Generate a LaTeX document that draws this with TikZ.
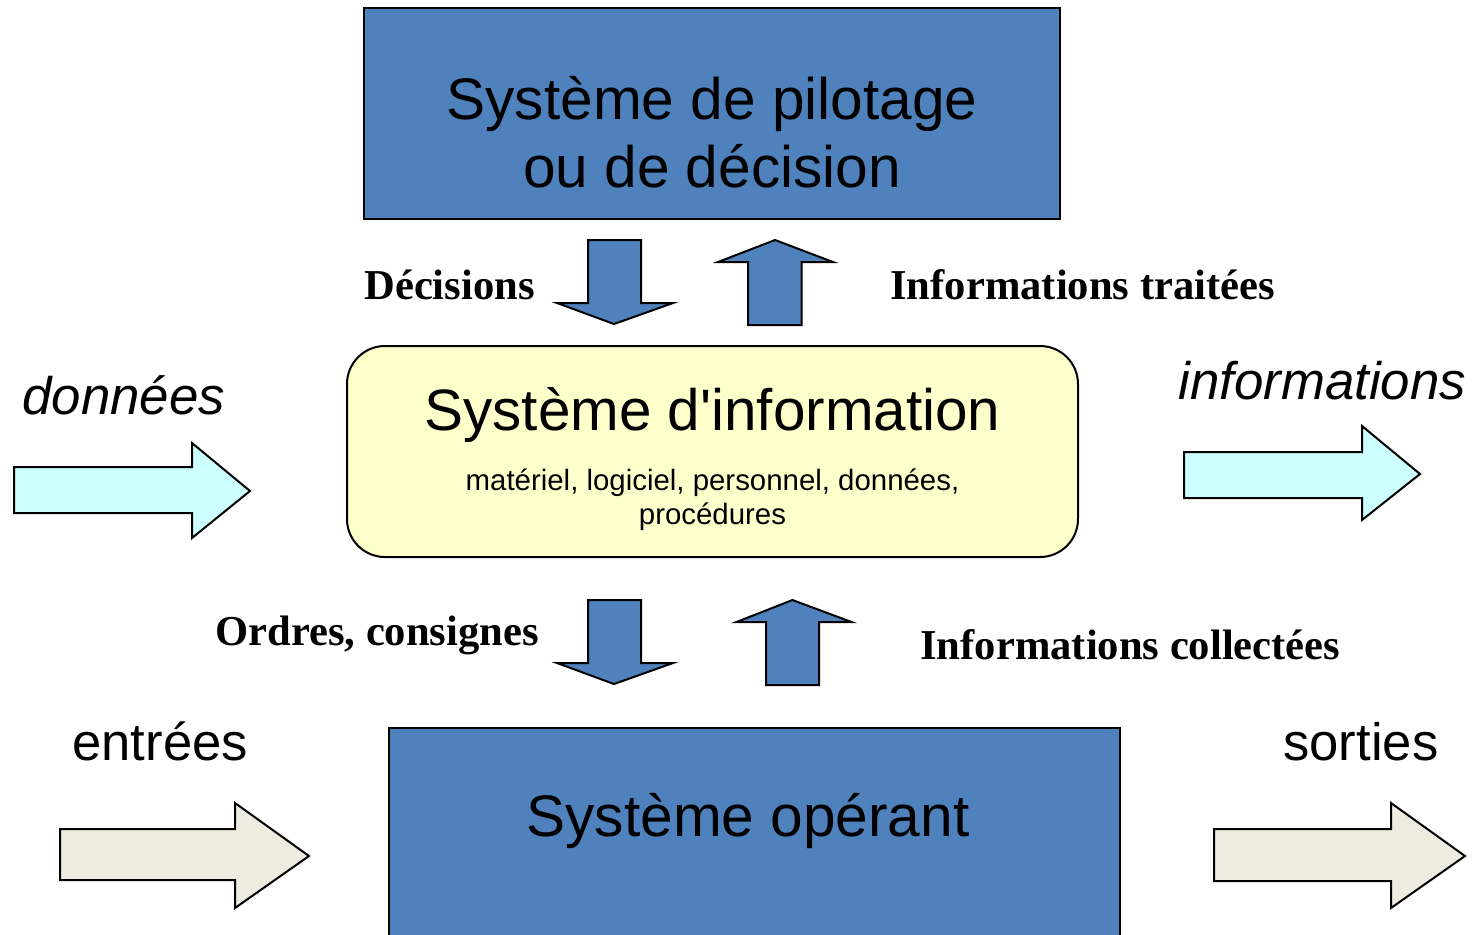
\documentclass[tikz,border=0pt]{standalone}
\usepackage{fontspec}
\setmainfont{Liberation Serif}
\setsansfont{Liberation Sans}
% plain family without TeX quote ligatures, so the apostrophe stays straight
\newfontfamily\plainsans{Liberation Sans}

\definecolor{boxblue}{RGB}{79,129,189}
\definecolor{siyellow}{RGB}{255,255,204}
\definecolor{flowcyan}{RGB}{204,255,255}
\definecolor{flowbeige}{RGB}{238,236,225}

\begin{document}
\begin{tikzpicture}[x=0.5pt,y=-0.5pt,
  sysbox/.style={draw=black,line width=1.25pt,fill=boxblue},
  blockarrow/.style={draw=black,line width=1pt,line join=miter,fill=boxblue},
  cyanarrow/.style={draw=black,line width=1pt,line join=miter,fill=flowcyan},
  beigearrow/.style={draw=black,line width=1pt,line join=miter,fill=flowbeige},
  bigtext/.style={inner sep=0pt,align=center,font=\sffamily\fontsize{29.3pt}{34pt}\selectfont},
  sitext/.style={inner sep=0pt,align=center,font=\plainsans\fontsize{29.2pt}{34pt}\selectfont},
  smalltext/.style={inner sep=0pt,align=center,font=\sffamily\fontsize{14.7pt}{17pt}\selectfont},
  flowlabel/.style={inner sep=0pt,anchor=base west,font=\sffamily\fontsize{26.3pt}{30pt}\selectfont},
  flowitalic/.style={inner sep=0pt,anchor=base west,font=\sffamily\itshape\fontsize{26.4pt}{30pt}\selectfont},
  arrowlabel/.style={inner sep=0pt,anchor=base west,font=\bfseries\fontsize{21.3pt}{25pt}\selectfont}]
\useasboundingbox (0,0) rectangle (1474,934);
\clip (0,0) rectangle (1474,934);

% Steering system (base anchor = baseline of the last line)
\draw[sysbox] (364,8) rectangle (1060,219);
\node[bigtext,anchor=base] (pilot) at (712,187) {Système de pilotage\\ou de décision};

% Information system
\draw[line width=1pt,fill=siyellow,rounded corners=19pt] (347,346) rectangle (1078,557);
\node[sitext,anchor=base] (si) at (712.5,430) {Système d'information};
\node[smalltext,anchor=base] (sicontent) at (712.5,524) {matériel, logiciel, personnel, données,\\procédures};

% Operating system (runs off the bottom edge)
\fill[boxblue] (389,728) rectangle (1120,950);
\draw[line width=1.25pt] (389,950) -- (389,728) -- (1120,728) -- (1120,950);
\node[bigtext,anchor=base] (operant) at (748,836) {Système opérant};

% Vertical block arrows between the systems
\draw[blockarrow] (588,240) -- (641,240) -- (641,303) -- (673,303) -- (614,324) -- (557,303) -- (588,303) -- cycle;
\draw[blockarrow] (748,325) -- (801.5,325) -- (801.5,262) -- (833,262) -- (775,240) -- (718,262) -- (748,262) -- cycle;
\draw[blockarrow] (588,600) -- (641,600) -- (641,663) -- (673,663) -- (614,684) -- (557,663) -- (588,663) -- cycle;
\draw[blockarrow] (766,685) -- (819,685) -- (819,622) -- (851.5,622) -- (792.5,600) -- (736.5,622) -- (766,622) -- cycle;

% Horizontal flows
\draw[cyanarrow] (14,467) -- (192,467) -- (192,443) -- (250,491) -- (192,538) -- (192,513) -- (14,513) -- cycle;
\draw[cyanarrow] (1184,452) -- (1362,452) -- (1362,426) -- (1420,474) -- (1362,520) -- (1362,498) -- (1184,498) -- cycle;
\draw[beigearrow] (60,829) -- (235,829) -- (235,803) -- (309,856) -- (235,908) -- (235,880) -- (60,880) -- cycle;
\draw[beigearrow] (1214,829) -- (1391,829) -- (1391,803) -- (1465,856) -- (1391,908) -- (1391,881) -- (1214,881) -- cycle;

% Labels
\node[arrowlabel] (dec) at (364,299) {Décisions};
\node[arrowlabel] (infotr) at (890,299) {Informations traitées};
\node[arrowlabel] (ordres) at (215,645) {Ordres, consignes};
\node[arrowlabel] (infocol) at (920,659) {Informations collectées};
\node[flowitalic] (donnees) at (22,414) {données};
\node[flowitalic] (informations) at (1178,399) {informations};
\node[flowlabel] (entrees) at (72,760) {entrées};
\node[flowlabel] (sorties) at (1283,760) {sorties};
\end{tikzpicture}
\end{document}
